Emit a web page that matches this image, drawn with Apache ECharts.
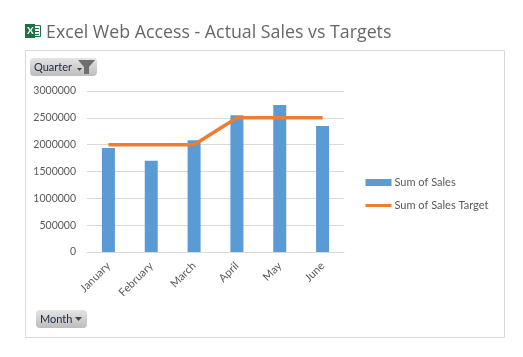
<!DOCTYPE html>
<html>
<head>
<meta charset="utf-8">
<style>
  html, body { margin: 0; padding: 0; background: #fff; }
  #chart { width: 523px; height: 357px; }
</style>
</head>
<body>
<div id="chart"></div>
<script src="https://cdn.jsdelivr.net/npm/echarts@6/dist/echarts.min.js"></script>
<script>
const months = ['January', 'February', 'March', 'April', 'May', 'June']
const sales = [1940000, 1700000, 2080000, 2550000, 2740000, 2350000]
const target = [2000000, 2000000, 2000000, 2500000, 2500000, 2500000]
const yMax = 3000000
const yStep = 500000

const chart = echarts.init(document.getElementById('chart'), null, { renderer: 'canvas' })

// grey pivot buttons
function pivotButton(x, y, w, h, label, textX) {
  return [
    {
      type: 'rect',
      shape: { x: x, y: y, width: w, height: h, r: 4 },
      style: {
        fill: new echarts.graphic.LinearGradient(0, 0, 0, 1, [
          { offset: 0, color: '#e4e4e4' },
          { offset: 1, color: '#bdbdbd' }
        ])
      }
    },
    {
      type: 'text',
      x: textX,
      y: y + h / 2,
      style: { text: label, fill: '#1a2a4a', font: '11px Lato', verticalAlign: 'middle' }
    }
  ]
}

chart.setOption({
  animation: false,
  backgroundColor: '#fff',
  textStyle: { fontFamily: 'Lato' },
  title: {
    text: 'Excel Web Access - Actual Sales vs Targets',
    left: 46,
    top: 24,
    padding: 0,
    textStyle: { fontFamily: 'Open Sans', fontSize: 17.8, fontWeight: 'normal', color: '#666666' }
  },
  grid: { left: 87, right: 179, top: 91, bottom: 105 },
  legend: {
    orient: 'vertical',
    left: 364,
    top: 177,
    itemWidth: 26,
    itemHeight: 7,
    itemGap: 12,
    padding: 0,
    textStyle: { fontFamily: 'Lato', fontSize: 11, color: '#595959', padding: [0, 0, 0, -2] },
    data: [
      { name: 'Sum of Sales', icon: 'rect' },
      { name: 'Sum of Sales Target', itemStyle: { opacity: 0 }, lineStyle: { width: 3 } }
    ]
  },
  xAxis: {
    type: 'category',
    data: months,
    axisLine: { lineStyle: { color: '#d9d9d9', width: 1 } },
    axisTick: { show: false },
    axisLabel: { rotate: 45, color: '#595959', fontSize: 11, margin: 12, interval: 0 }
  },
  yAxis: {
    type: 'value',
    min: 0,
    max: yMax,
    interval: yStep,
    axisLine: { show: false },
    axisTick: { show: false },
    axisLabel: { color: '#595959', fontSize: 10.5, margin: 11, formatter: (v) => String(v) },
    splitLine: { lineStyle: { color: '#d9d9d9', width: 1 } }
  },
  series: [
    {
      name: 'Sum of Sales',
      type: 'bar',
      data: sales,
      barWidth: 13,
      itemStyle: { color: '#5b9bd5' }
    },
    {
      name: 'Sum of Sales Target',
      type: 'line',
      data: target,
      symbol: 'none',
      lineStyle: { color: '#ed7d31', width: 3.5 },
      itemStyle: { color: '#ed7d31' }
    }
  ],
  graphic: [
    // frame
    {
      type: 'rect',
      shape: { x: 25.5, y: 50.5, width: 479, height: 287 },
      style: { fill: 'none', stroke: '#d9d9d9', lineWidth: 1 }
    },
    // excel icon: sheet behind, green tab in front
    {
      type: 'rect',
      shape: { x: 33.5, y: 25.5, width: 7, height: 11 },
      style: { fill: '#fff', stroke: '#1e7145', lineWidth: 1 }
    },
    { type: 'line', shape: { x1: 35, y1: 28.5, x2: 39, y2: 28.5 }, style: { stroke: '#1e7145' } },
    { type: 'line', shape: { x1: 35, y1: 31.5, x2: 39, y2: 31.5 }, style: { stroke: '#1e7145' } },
    { type: 'line', shape: { x1: 35, y1: 34.5, x2: 39, y2: 34.5 }, style: { stroke: '#1e7145' } },
    { type: 'rect', shape: { x: 25, y: 24, width: 10, height: 14 }, style: { fill: '#1e7145' } },
    {
      type: 'text',
      x: 27,
      y: 31,
      style: { text: 'X', fill: '#fff', font: 'bold 10px Lato', verticalAlign: 'middle' }
    },
    ...pivotButton(30, 58, 67, 18, 'Quarter', 34),
    // filter funnel + small dropdown arrow
    {
      type: 'polygon',
      shape: { points: [[78, 60], [95, 60], [89, 67], [89, 74], [84, 74], [84, 67]] },
      style: { fill: '#6e6e6e' }
    },
    {
      type: 'polygon',
      shape: { points: [[77, 68], [82, 68], [79.5, 71]] },
      style: { fill: '#444' }
    },
    ...pivotButton(36, 310, 51, 18, 'Month', 40),
    {
      type: 'polygon',
      shape: { points: [[75, 317], [82, 317], [78.5, 321]] },
      style: { fill: '#444' }
    }
  ]
})
</script>
</body>
</html>
